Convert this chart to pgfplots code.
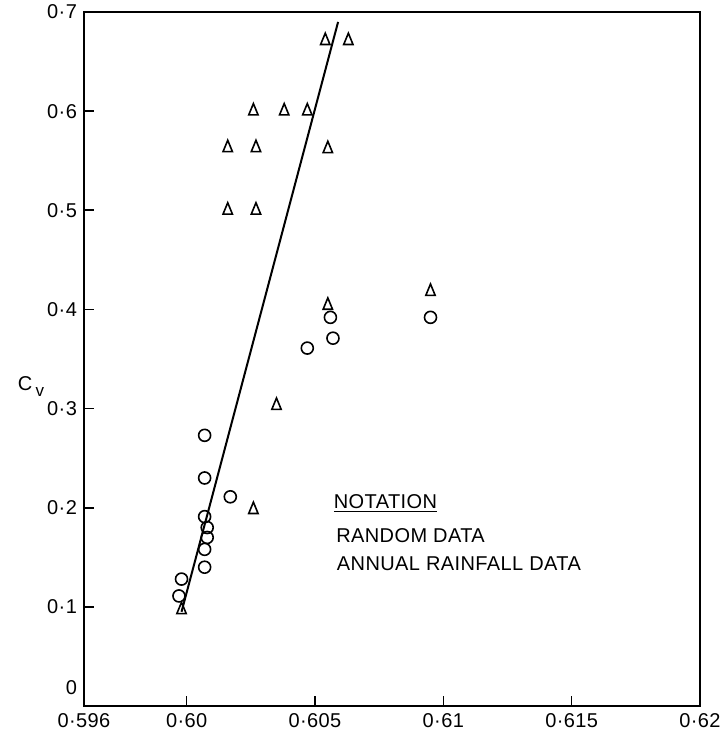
\documentclass[border=0pt]{standalone}
\usepackage{fontspec}
\setmainfont{Liberation Sans}[LetterSpace=2]
\usepackage{pgfplots}
\pgfplotsset{compat=1.18}
\pgfplotstableread{
x y
0.6054 0.671
0.6063 0.671
0.6026 0.600
0.6038 0.600
0.6047 0.600
0.6016 0.563
0.6027 0.563
0.6055 0.562
0.6016 0.500
0.6027 0.500
0.6055 0.404
0.6095 0.418
0.6035 0.303
0.6026 0.198
0.5998 0.097
}\randomdata
\pgfplotstableread{
x y
0.6007 0.273
0.6007 0.230
0.6017 0.211
0.6007 0.191
0.6008 0.180
0.6008 0.170
0.6007 0.158
0.6007 0.140
0.5998 0.128
0.5997 0.111
0.6056 0.392
0.6095 0.392
0.6057 0.371
0.6047 0.361
}\rainfalldata
\begin{document}
\fontsize{10}{12}\selectfont
\begin{tikzpicture}
\begin{axis}[name=ax, scale only axis, width=308pt, height=347pt,
 xmin=0.596, xmax=0.62, ymin=0, ymax=0.7,
 axis line style={line width=1pt},
 tick align=inside, xtick pos=bottom, ytick pos=left,
 major tick length=5pt, tick style={line width=0.8pt, black},
 xtick={0.596,0.6,0.605,0.61,0.615,0.62},
 xticklabels={0·596,0·60,0·605,0·61,0·615,0·62},
 ytick={0,0.1,0.2,0.3,0.4,0.5,0.6,0.7},
 yticklabels={\raisebox{18pt}{0},0·1,0·2,0·3,0·4,0·5,0·6,0·7},
 ticklabel style={font=\fontsize{10}{12}\selectfont},
 clip=false,
]
\addplot[only marks, mark=triangle, mark size=2.7pt, mark options={line width=0.8pt, yscale=1.4}] table {\randomdata};
\addplot[only marks, mark=o, mark size=3pt, mark options={line width=0.8pt}] table {\rainfalldata};
\addplot[line width=1pt] coordinates {(0.5998,0.095) (0.6059,0.69)};
\node[anchor=west] at (axis description cs:-0.119,0.46) {C\,\raisebox{-0.6ex}{\fontsize{8.5}{9}\selectfont v}};
\node[anchor=west, inner sep=0pt] at (axis description cs:0.405,0.292) {\underline{NOTATION}};
\node[anchor=west, inner sep=0pt] at (axis description cs:0.409,0.245) {RANDOM DATA};
\node[anchor=west, inner sep=0pt] at (axis description cs:0.41,0.205) {ANNUAL RAINFALL DATA};
\end{axis}
\pgfresetboundingbox
\path ([xshift=-42pt,yshift=-19.5pt]ax.south west) rectangle ([xshift=11pt,yshift=6pt]ax.north east);
\end{tikzpicture}
\end{document}
